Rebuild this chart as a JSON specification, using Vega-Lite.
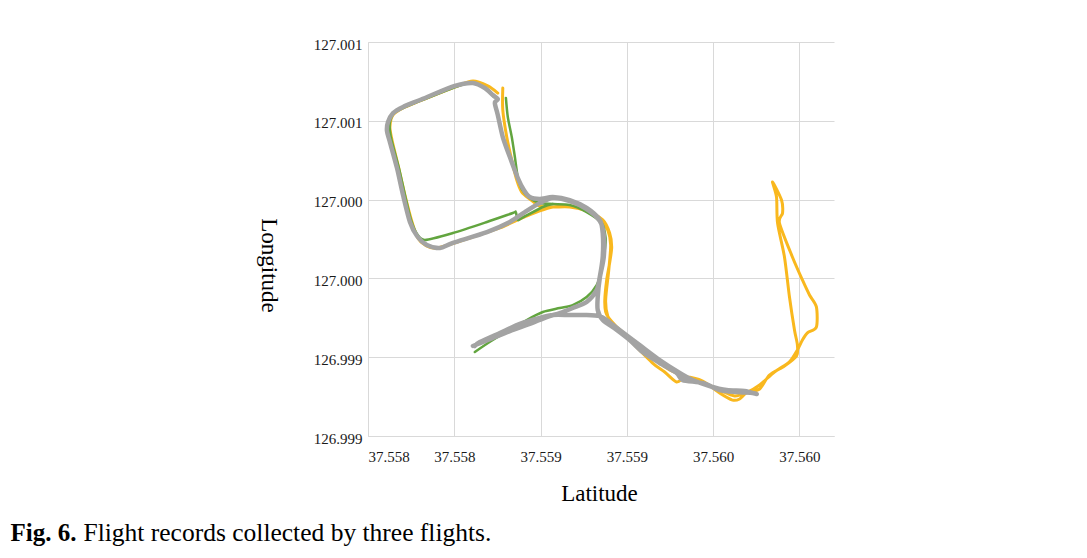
{
  "$schema": "https://vega.github.io/schema/vega-lite/v6.json",
  "width": 466,
  "height": 394,
  "autosize": "none",
  "padding": {"left": 368, "top": 42, "right": 253, "bottom": 122},
  "background": "white",
  "view": {"stroke": null},
  "datasets": {
    "orange": [
      {"s":1,"t":1,"lat":37.558581,"lon":127.001008},
      {"s":1,"t":2,"lat":37.558581,"lon":127.000868},
      {"s":1,"t":3,"lat":37.558604,"lon":127.000697},
      {"s":1,"t":4,"lat":37.558633,"lon":127.000551},
      {"s":1,"t":5,"lat":37.558662,"lon":127.000424},
      {"s":1,"t":6,"lat":37.558691,"lon":127.000348},
      {"s":1,"t":7,"lat":37.558737,"lon":127.000304},
      {"s":1,"t":8,"lat":37.558795,"lon":127.000259},
      {"s":1,"t":9,"lat":37.558871,"lon":127.000253},
      {"s":1,"t":10,"lat":37.558969,"lon":127.000253},
      {"s":1,"t":11,"lat":37.559067,"lon":127.000228},
      {"s":1,"t":12,"lat":37.559160,"lon":127.000171},
      {"s":1,"t":13,"lat":37.559200,"lon":127.000088},
      {"s":1,"t":14,"lat":37.559212,"lon":126.999999},
      {"s":1,"t":15,"lat":37.559200,"lon":126.999898},
      {"s":1,"t":16,"lat":37.559183,"lon":126.999790},
      {"s":1,"t":17,"lat":37.559172,"lon":126.999663},
      {"s":1,"t":18,"lat":37.559177,"lon":126.999587},
      {"s":1,"t":19,"lat":37.559195,"lon":126.999549},
      {"s":1,"t":20,"lat":37.559241,"lon":126.999492},
      {"s":1,"t":21,"lat":37.559316,"lon":126.999409},
      {"s":1,"t":22,"lat":37.559449,"lon":126.999263},
      {"s":1,"t":23,"lat":37.559519,"lon":126.999206},
      {"s":1,"t":24,"lat":37.559588,"lon":126.999143},
      {"s":1,"t":25,"lat":37.559646,"lon":126.999174},
      {"s":1,"t":26,"lat":37.559739,"lon":126.999149},
      {"s":1,"t":27,"lat":37.559837,"lon":126.999073},
      {"s":1,"t":28,"lat":37.559912,"lon":126.999028},
      {"s":1,"t":29,"lat":37.559953,"lon":126.999035},
      {"s":1,"t":30,"lat":37.559993,"lon":126.999073},
      {"s":1,"t":31,"lat":37.560069,"lon":126.999098},
      {"s":1,"t":32,"lat":37.560126,"lon":126.999187},
      {"s":1,"t":33,"lat":37.560213,"lon":126.999244},
      {"s":1,"t":34,"lat":37.560283,"lon":126.999308},
      {"s":1,"t":35,"lat":37.560288,"lon":126.999377},
      {"s":1,"t":36,"lat":37.560271,"lon":126.999473},
      {"s":1,"t":37,"lat":37.560242,"lon":126.999682},
      {"s":1,"t":38,"lat":37.560213,"lon":126.999936},
      {"s":1,"t":39,"lat":37.560173,"lon":127.000151},
      {"s":1,"t":40,"lat":37.560167,"lon":127.000316},
      {"s":1,"t":41,"lat":37.560144,"lon":127.000412},
      {"s":1,"t":42,"lat":37.560196,"lon":127.000297},
      {"s":1,"t":43,"lat":37.560202,"lon":127.000215},
      {"s":1,"t":44,"lat":37.560184,"lon":127.000151},
      {"s":1,"t":45,"lat":37.560259,"lon":126.999936},
      {"s":1,"t":46,"lat":37.560317,"lon":126.999790},
      {"s":1,"t":47,"lat":37.560358,"lon":126.999695},
      {"s":1,"t":48,"lat":37.560398,"lon":126.999619},
      {"s":1,"t":49,"lat":37.560398,"lon":126.999492},
      {"s":1,"t":50,"lat":37.560346,"lon":126.999454},
      {"s":1,"t":51,"lat":37.560317,"lon":126.999409},
      {"s":1,"t":52,"lat":37.560288,"lon":126.999346},
      {"s":1,"t":53,"lat":37.560242,"lon":126.999270},
      {"s":1,"t":54,"lat":37.560155,"lon":126.999206},
      {"s":1,"t":55,"lat":37.560069,"lon":126.999124},
      {"s":1,"t":56,"lat":37.559999,"lon":126.999079},
      {"s":1,"t":57,"lat":37.559924,"lon":126.999054},
      {"s":1,"t":58,"lat":37.559837,"lon":126.999092},
      {"s":1,"t":59,"lat":37.559750,"lon":126.999136},
      {"s":1,"t":60,"lat":37.559663,"lon":126.999168},
      {"s":1,"t":61,"lat":37.559548,"lon":126.999219},
      {"s":1,"t":62,"lat":37.559432,"lon":126.999314},
      {"s":1,"t":63,"lat":37.559316,"lon":126.999422},
      {"s":1,"t":64,"lat":37.559229,"lon":126.999504},
      {"s":1,"t":65,"lat":37.559189,"lon":126.999561},
      {"s":1,"t":66,"lat":37.559177,"lon":126.999663},
      {"s":1,"t":67,"lat":37.559195,"lon":126.999853},
      {"s":1,"t":68,"lat":37.559206,"lon":127.000012},
      {"s":1,"t":69,"lat":37.559189,"lon":127.000107},
      {"s":1,"t":70,"lat":37.559143,"lon":127.000177},
      {"s":1,"t":71,"lat":37.559067,"lon":127.000234},
      {"s":1,"t":72,"lat":37.558969,"lon":127.000259},
      {"s":1,"t":73,"lat":37.558871,"lon":127.000253},
      {"s":1,"t":74,"lat":37.558795,"lon":127.000228},
      {"s":1,"t":75,"lat":37.558680,"lon":127.000177},
      {"s":1,"t":76,"lat":37.558564,"lon":127.000120},
      {"s":1,"t":77,"lat":37.558390,"lon":127.000056},
      {"s":1,"t":78,"lat":37.558199,"lon":126.999993},
      {"s":1,"t":79,"lat":37.558130,"lon":127.000012},
      {"s":1,"t":80,"lat":37.558089,"lon":127.000056},
      {"s":1,"t":81,"lat":37.558055,"lon":127.000158},
      {"s":1,"t":82,"lat":37.558014,"lon":127.000329},
      {"s":1,"t":83,"lat":37.557974,"lon":127.000519},
      {"s":1,"t":84,"lat":37.557939,"lon":127.000678},
      {"s":1,"t":85,"lat":37.557927,"lon":127.000761},
      {"s":1,"t":86,"lat":37.557945,"lon":127.000837},
      {"s":1,"t":87,"lat":37.558003,"lon":127.000881},
      {"s":1,"t":88,"lat":37.558101,"lon":127.000926},
      {"s":1,"t":89,"lat":37.558303,"lon":127.001014},
      {"s":1,"t":90,"lat":37.558408,"lon":127.001052},
      {"s":1,"t":91,"lat":37.558494,"lon":127.001021},
      {"s":1,"t":92,"lat":37.558552,"lon":127.000976}
    ],
    "green": [
      {"s":1,"t":1,"lat":37.558419,"lon":126.999333},
      {"s":1,"t":2,"lat":37.558523,"lon":126.999409},
      {"s":1,"t":3,"lat":37.558720,"lon":126.999536},
      {"s":1,"t":4,"lat":37.558813,"lon":126.999587},
      {"s":1,"t":5,"lat":37.558911,"lon":126.999612},
      {"s":1,"t":6,"lat":37.558986,"lon":126.999631},
      {"s":1,"t":7,"lat":37.559067,"lon":126.999682},
      {"s":1,"t":8,"lat":37.559125,"lon":126.999758},
      {"s":1,"t":9,"lat":37.559154,"lon":126.999853},
      {"s":1,"t":10,"lat":37.559172,"lon":126.999980},
      {"s":1,"t":11,"lat":37.559177,"lon":127.000056},
      {"s":1,"t":12,"lat":37.559154,"lon":127.000151},
      {"s":1,"t":13,"lat":37.559067,"lon":127.000221},
      {"s":1,"t":14,"lat":37.558969,"lon":127.000266},
      {"s":1,"t":15,"lat":37.558871,"lon":127.000272},
      {"s":1,"t":16,"lat":37.558795,"lon":127.000278},
      {"s":1,"t":17,"lat":37.558737,"lon":127.000310},
      {"s":1,"t":18,"lat":37.558691,"lon":127.000367},
      {"s":1,"t":19,"lat":37.558668,"lon":127.000443},
      {"s":1,"t":20,"lat":37.558651,"lon":127.000570},
      {"s":1,"t":21,"lat":37.558633,"lon":127.000697},
      {"s":1,"t":22,"lat":37.558610,"lon":127.000824},
      {"s":1,"t":23,"lat":37.558599,"lon":127.000945},
      {"s":2,"t":1,"lat":37.558529,"lon":127.000951},
      {"s":2,"t":2,"lat":37.558477,"lon":127.001008},
      {"s":2,"t":3,"lat":37.558390,"lon":127.001040},
      {"s":2,"t":4,"lat":37.558292,"lon":127.001008},
      {"s":2,"t":5,"lat":37.558101,"lon":127.000926},
      {"s":2,"t":6,"lat":37.558003,"lon":127.000881},
      {"s":2,"t":7,"lat":37.557950,"lon":127.000849},
      {"s":2,"t":8,"lat":37.557927,"lon":127.000792},
      {"s":2,"t":9,"lat":37.557927,"lon":127.000735},
      {"s":2,"t":10,"lat":37.557939,"lon":127.000665},
      {"s":2,"t":11,"lat":37.557979,"lon":127.000500},
      {"s":2,"t":12,"lat":37.558014,"lon":127.000329},
      {"s":2,"t":13,"lat":37.558049,"lon":127.000171},
      {"s":2,"t":14,"lat":37.558084,"lon":127.000082},
      {"s":2,"t":15,"lat":37.558130,"lon":127.000044},
      {"s":2,"t":16,"lat":37.558292,"lon":127.000088},
      {"s":2,"t":17,"lat":37.558489,"lon":127.000158},
      {"s":2,"t":18,"lat":37.558639,"lon":127.000215},
      {"s":2,"t":19,"lat":37.558656,"lon":127.000221},
      {"s":2,"t":20,"lat":37.558668,"lon":127.000171},
      {"s":2,"t":21,"lat":37.558691,"lon":127.000183},
      {"s":2,"t":22,"lat":37.558813,"lon":127.000253},
      {"s":2,"t":23,"lat":37.558871,"lon":127.000272}
    ],
    "gray": [
      {"s":1,"t":1,"lat":37.558408,"lon":126.999371},
      {"s":1,"t":2,"lat":37.558506,"lon":126.999415},
      {"s":1,"t":3,"lat":37.558622,"lon":126.999466},
      {"s":1,"t":4,"lat":37.558737,"lon":126.999511},
      {"s":1,"t":5,"lat":37.558836,"lon":126.999555},
      {"s":1,"t":6,"lat":37.558911,"lon":126.999580},
      {"s":1,"t":7,"lat":37.558986,"lon":126.999612},
      {"s":1,"t":8,"lat":37.559067,"lon":126.999650},
      {"s":1,"t":9,"lat":37.559125,"lon":126.999726},
      {"s":1,"t":10,"lat":37.559143,"lon":126.999809},
      {"s":1,"t":11,"lat":37.559160,"lon":126.999936},
      {"s":1,"t":12,"lat":37.559160,"lon":127.000088},
      {"s":1,"t":13,"lat":37.559143,"lon":127.000171},
      {"s":1,"t":14,"lat":37.559067,"lon":127.000247},
      {"s":1,"t":15,"lat":37.558969,"lon":127.000297},
      {"s":1,"t":16,"lat":37.558871,"lon":127.000316},
      {"s":1,"t":17,"lat":37.558795,"lon":127.000304},
      {"s":1,"t":18,"lat":37.558737,"lon":127.000316},
      {"s":1,"t":19,"lat":37.558703,"lon":127.000361},
      {"s":1,"t":20,"lat":37.558668,"lon":127.000437},
      {"s":1,"t":21,"lat":37.558622,"lon":127.000570},
      {"s":1,"t":22,"lat":37.558581,"lon":127.000697},
      {"s":1,"t":23,"lat":37.558552,"lon":127.000837},
      {"s":1,"t":24,"lat":37.558535,"lon":127.000913},
      {"s":1,"t":25,"lat":37.558552,"lon":127.000938},
      {"s":1,"t":26,"lat":37.558523,"lon":127.000964},
      {"s":1,"t":27,"lat":37.558477,"lon":127.001008},
      {"s":1,"t":28,"lat":37.558408,"lon":127.001040},
      {"s":1,"t":29,"lat":37.558303,"lon":127.001021},
      {"s":1,"t":30,"lat":37.558101,"lon":127.000932},
      {"s":1,"t":31,"lat":37.558003,"lon":127.000888},
      {"s":1,"t":32,"lat":37.557945,"lon":127.000849},
      {"s":1,"t":33,"lat":37.557916,"lon":127.000792},
      {"s":1,"t":34,"lat":37.557910,"lon":127.000735},
      {"s":1,"t":35,"lat":37.557927,"lon":127.000665},
      {"s":1,"t":36,"lat":37.557968,"lon":127.000500},
      {"s":1,"t":37,"lat":37.558003,"lon":127.000329},
      {"s":1,"t":38,"lat":37.558043,"lon":127.000158},
      {"s":1,"t":39,"lat":37.558084,"lon":127.000069},
      {"s":1,"t":40,"lat":37.558141,"lon":127.000012},
      {"s":1,"t":41,"lat":37.558217,"lon":126.999993},
      {"s":1,"t":42,"lat":37.558292,"lon":127.000025},
      {"s":1,"t":43,"lat":37.558489,"lon":127.000094},
      {"s":1,"t":44,"lat":37.558622,"lon":127.000158},
      {"s":1,"t":45,"lat":37.558709,"lon":127.000221},
      {"s":1,"t":46,"lat":37.558795,"lon":127.000278},
      {"s":1,"t":47,"lat":37.558871,"lon":127.000310},
      {"s":1,"t":48,"lat":37.558969,"lon":127.000291},
      {"s":1,"t":49,"lat":37.559067,"lon":127.000240},
      {"s":1,"t":50,"lat":37.559143,"lon":127.000164},
      {"s":1,"t":51,"lat":37.559166,"lon":127.000075},
      {"s":1,"t":52,"lat":37.559166,"lon":126.999936},
      {"s":1,"t":53,"lat":37.559143,"lon":126.999803},
      {"s":1,"t":54,"lat":37.559131,"lon":126.999682},
      {"s":1,"t":55,"lat":37.559131,"lon":126.999599},
      {"s":1,"t":56,"lat":37.559160,"lon":126.999536},
      {"s":1,"t":57,"lat":37.559241,"lon":126.999473},
      {"s":1,"t":58,"lat":37.559316,"lon":126.999409},
      {"s":1,"t":59,"lat":37.559391,"lon":126.999333},
      {"s":1,"t":60,"lat":37.559490,"lon":126.999263},
      {"s":1,"t":61,"lat":37.559588,"lon":126.999200},
      {"s":1,"t":62,"lat":37.559623,"lon":126.999155},
      {"s":1,"t":63,"lat":37.559739,"lon":126.999136},
      {"s":1,"t":64,"lat":37.559837,"lon":126.999092},
      {"s":1,"t":65,"lat":37.559935,"lon":126.999079},
      {"s":1,"t":66,"lat":37.560028,"lon":126.999073},
      {"s":1,"t":67,"lat":37.560051,"lon":126.999066},
      {"s":1,"t":68,"lat":37.559982,"lon":126.999086},
      {"s":1,"t":69,"lat":37.559878,"lon":126.999092},
      {"s":1,"t":70,"lat":37.559779,"lon":126.999117},
      {"s":1,"t":71,"lat":37.559681,"lon":126.999155},
      {"s":1,"t":72,"lat":37.559606,"lon":126.999200},
      {"s":1,"t":73,"lat":37.559490,"lon":126.999282},
      {"s":1,"t":74,"lat":37.559374,"lon":126.999377},
      {"s":1,"t":75,"lat":37.559258,"lon":126.999473},
      {"s":1,"t":76,"lat":37.559183,"lon":126.999536},
      {"s":1,"t":77,"lat":37.559143,"lon":126.999561},
      {"s":1,"t":78,"lat":37.559067,"lon":126.999568},
      {"s":1,"t":79,"lat":37.558969,"lon":126.999568},
      {"s":1,"t":80,"lat":37.558871,"lon":126.999568},
      {"s":1,"t":81,"lat":37.558795,"lon":126.999549},
      {"s":1,"t":82,"lat":37.558680,"lon":126.999511},
      {"s":1,"t":83,"lat":37.558564,"lon":126.999454},
      {"s":1,"t":84,"lat":37.558448,"lon":126.999396},
      {"s":1,"t":85,"lat":37.558419,"lon":126.999371}
    ]
  },
  "layer": [
    {
      "encoding": {
        "x": {
          "field": "lat",
          "type": "quantitative",
          "title": "Latitude",
          "scale": {"domain": [37.5578, 37.5605], "zero": false, "nice": false},
          "axis": {
            "values": [37.5578, 37.5583, 37.5588, 37.5593, 37.5598, 37.5603],
            "format": ".3f",
            "labelPadding": 13,
            "titleY": 64,
            "titleX": 231,
            "titleBaseline": "alphabetic",
            "titleAlign": "center"
          }
        },
        "y": {
          "field": "lon",
          "type": "quantitative",
          "title": "Longitude",
          "scale": {"domain": [126.9988, 127.0013], "zero": false, "nice": false},
          "axis": {
            "values": [126.9988, 126.9993, 126.9998, 127.0003, 127.0008, 127.0013],
            "format": ".3f",
            "labelPadding": 6,
            "labelOffset": 2,
            "titleAngle": 90,
            "titleX": -100,
            "titleY": 223,
            "titleAlign": "center",
            "titleBaseline": "middle"
          }
        },
        "order": {"field": "t", "type": "quantitative"},
        "detail": {"field": "s", "type": "nominal"}
      },
      "layer": [
        {
          "data": {"name": "orange"},
          "mark": {"type": "line", "color": "#F9B81E", "strokeWidth": 3, "strokeCap": "round", "strokeJoin": "round", "interpolate": "cardinal", "tension": 0.2}
        },
        {
          "data": {"name": "green"},
          "mark": {"type": "line", "color": "#62A53F", "strokeWidth": 2.5, "strokeCap": "round", "strokeJoin": "round", "interpolate": "cardinal", "tension": 0.2}
        }
      ]
    },
    {
      "data": {"name": "gray"},
      "mark": {"type": "line", "color": "#A3A3A3", "strokeWidth": 4.5, "strokeCap": "round", "strokeJoin": "round", "interpolate": "cardinal", "tension": 0.2},
      "encoding": {
        "x": {
          "field": "lat",
          "type": "quantitative",
          "title": "Flight records collected by three flights.",
          "scale": {"domain": [37.5578, 37.5605], "zero": false, "nice": false},
          "axis": {
            "orient": "top",
            "grid": false,
            "labels": false,
            "domain": false,
            "ticks": false,
            "titleX": -285,
            "titleY": 498,
            "titleAlign": "left",
            "titleBaseline": "alphabetic",
            "titleFontSize": 25.5,
            "titleFontWeight": "normal"
          }
        },
        "y": {
          "field": "lon",
          "type": "quantitative",
          "title": "Fig. 6.",
          "scale": {"domain": [126.9988, 127.0013], "zero": false, "nice": false},
          "axis": {
            "orient": "right",
            "grid": false,
            "labels": false,
            "domain": false,
            "ticks": false,
            "titleAngle": 0,
            "titleX": -824,
            "titleY": 498,
            "titleAlign": "left",
            "titleBaseline": "alphabetic",
            "titleFontSize": 25,
            "titleFontWeight": "bold"
          }
        },
        "order": {"field": "t", "type": "quantitative"},
        "detail": {"field": "s", "type": "nominal"}
      }
    }
  ],
  "resolve": {
    "scale": {"x": "independent", "y": "independent"},
    "axis": {"x": "independent", "y": "independent"}
  },
  "config": {
    "axis": {
      "grid": true,
      "gridColor": "#D9D9D9",
      "gridWidth": 1,
      "domain": true,
      "domainColor": "#D9D9D9",
      "domainWidth": 1,
      "ticks": false,
      "tickSize": 0,
      "labelFont": "Liberation Serif",
      "labelFontSize": 15,
      "labelColor": "#1a1a1a",
      "titleFont": "Liberation Serif",
      "titleFontSize": 23,
      "titleFontWeight": "normal",
      "titleColor": "#000000"
    }
  }
}
